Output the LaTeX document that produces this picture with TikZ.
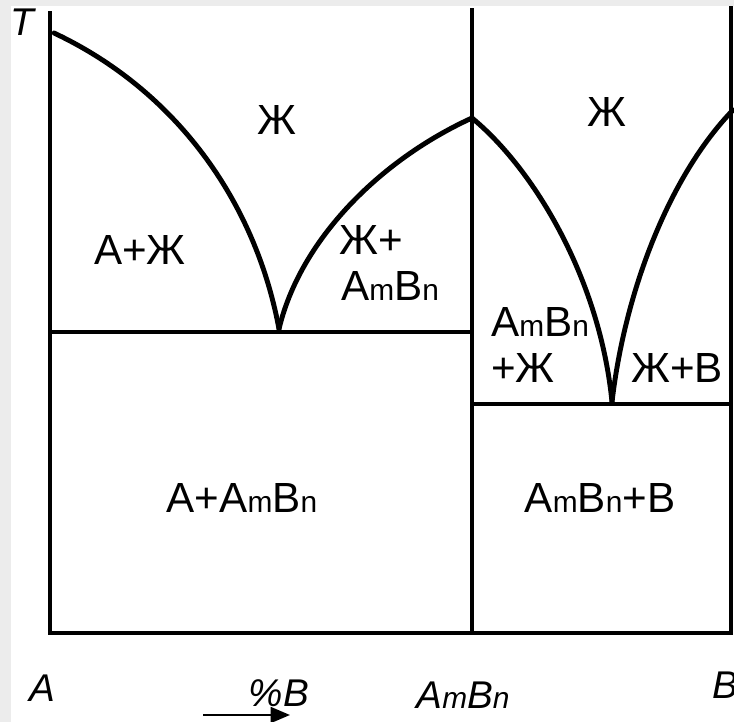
\documentclass[tikz,border=0pt]{standalone}
\usepackage{fontspec}
\setmainfont{Liberation Sans}
\usepackage{tikz}
\usetikzlibrary{positioning,arrows.meta}
\definecolor{colM}{RGB}{236,236,236}
\newcommand{\subm}[1]{{\fontsize{17}{17}\selectfont #1}}
\newcommand{\AmBn}{A\subm{m}B\subm{n}}

\begin{document}
\begin{tikzpicture}[
  x=0.02cm, y=-0.02cm,
  axis/.style={line width=2.3pt, line cap=rect},
  liq/.style={line width=2.8pt, line cap=round},
  reg/.style={font=\fontsize{24}{29}\selectfont, inner sep=0pt},
  tick/.style={font=\fontsize{22}{26}\selectfont\itshape, inner sep=0pt},
  arr/.style={-{Triangle[length=11pt,width=9pt]}, line width=1.3pt}
]

\useasboundingbox (0,0) rectangle (734,722);
\fill[colM] (0,0) rectangle (734,722);
\fill[white] (11,6) rectangle (734,722);

% key points
\coordinate (o)   at (50,633);
\coordinate (top) at (50,13);
\coordinate (mb)  at (472,633);
\coordinate (mt)  at (472,10);
\coordinate (rb)  at (731,633);
\coordinate (rt)  at (731,8);
\coordinate (tA)  at (54,33);
\coordinate (e1)  at (279,329);
\coordinate (tC)  at (472,118);
\coordinate (e2)  at (612,402);
\coordinate (tB)  at (733,110);

% axes and verticals
\draw[axis] (top) -- (o) -- (rb) -- (rt);
\draw[axis] (mt) -- (mb);

% eutectic lines
\draw[axis] (50,332) -- (472,332);
\draw[axis] (472,404) -- (731,404);

% liquidus
\draw[liq] (tA) .. controls (175,90) and (255,200) .. (e1);
\draw[liq] (e1) .. controls (300,240) and (380,160) .. (tC);
\draw[liq] (tC) .. controls (535,170) and (600,280) .. (e2);
\draw[liq] (e2) .. controls (625,290) and (670,175) .. (tB);

% region labels
\node[reg] (lq1) at (277,120) {Ж};
\node[reg] (lqa) at (140,250) {A+Ж};
\node[reg, anchor=base west] (lqc1) at (339,255) {Ж+};
\node[reg, anchor=base west] (lqc2) at (341,301) {A\subm{m}B\subm{n}};
\node[reg] (lq2) at (607,112) {Ж};
\node[reg, anchor=base west] (cl1) at (491,337) {A\subm{m}B\subm{n}};
\node[reg, anchor=base west] (cl2) at (491,383) {+Ж};
\node[reg, anchor=base west] (lqb) at (631,383) {Ж+В};
\node[reg] (sol1) at (242,498) {A+\AmBn};
\node[reg] (sol2) at (600,498) {\AmBn+B};

% axis labels
\node[tick] (T) at (22,22) {T};
\node[tick] (lA) at (42,688) {A};
\node[tick] (lpc) at (279,693) {\%B};
\node[tick] (lC) at (463,695) {A\subm{m}B\subm{n}};
\node[tick] (lB) at (725,685) {B};

\coordinate (a0) at (203,715);
\coordinate (a1) at (290,715);
\draw[arr] (a0) -- (a1);

\end{tikzpicture}
\end{document}
